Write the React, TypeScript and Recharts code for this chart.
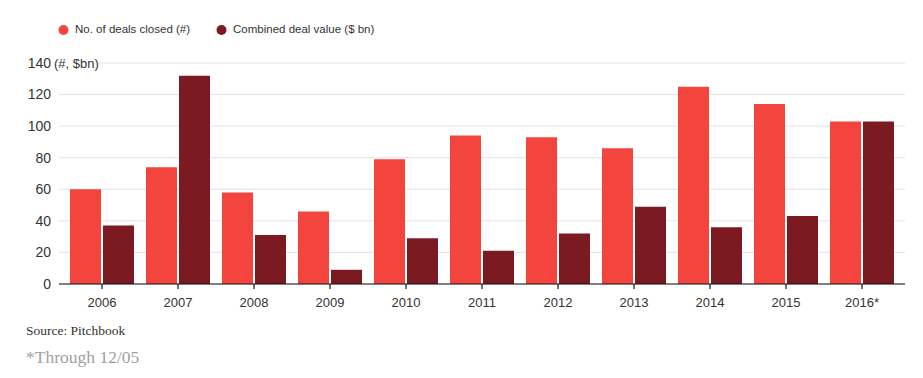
import React from "react";
import { BarChart, Bar, XAxis, YAxis, CartesianGrid } from "recharts";

const years = ["2006", "2007", "2008", "2009", "2010", "2011", "2012", "2013", "2014", "2015", "2016*"];
const dealsClosed = [60, 74, 58, 46, 79, 94, 93, 86, 125, 114, 103];
const dealValue = [37, 132, 31, 9, 29, 21, 32, 49, 36, 43, 103];
const yTicks = [0, 20, 40, 60, 80, 100, 120, 140];

const seriesNames = ["No. of deals closed (#)", "Combined deal value ($ bn)"];
const RED = "#F4443E";
const DARK = "#7C1A22";

const data = years.map((y, i) => ({ year: y, deals: dealsClosed[i], value: dealValue[i] }));

const SANS = "'Liberation Sans', Arial, sans-serif";
const SERIF = "'Liberation Serif', 'Times New Roman', serif";

const YTick = (props: any) => {
  const { x, y, payload } = props;
  if (payload.value === 140) {
    return (
      <g>
        <rect x={x + 1} y={y - 8} width={47} height={16} fill="#fff" />
        <text x={x} y={y} dy="0.35em" textAnchor="end" fontSize={14} fill="#333" fontFamily={SANS}>
          140
        </text>
        <text x={x + 3} y={y} dy="0.35em" textAnchor="start" fontSize={13} fill="#333" fontFamily={SANS}>
          (#, $bn)
        </text>
      </g>
    );
  }
  return (
    <text x={x} y={y} dy="0.35em" textAnchor="end" fontSize={14} fill="#333" fontFamily={SANS}>
      {payload.value}
    </text>
  );
};

const LegendContent = () => (
  <div style={{ display: "flex", alignItems: "center", fontFamily: SANS, fontSize: 11.5, color: "#333" }}>
    {[RED, DARK].map((c, i) => (
      <div key={i} style={{ display: "flex", alignItems: "center", marginRight: i === 0 ? 26 : 0 }}>
        <svg width={13} height={14} style={{ marginRight: 4 }}>
          <circle cx={5.5} cy={8} r={5} fill={c} />
        </svg>
        <span>{seriesNames[i]}</span>
      </div>
    ))}
  </div>
);

export default function App() {
  return (
    <div style={{ position: "relative", margin: -8, width: 923, height: 378, background: "#fff" }}>
      <BarChart
        width={923}
        height={378}
        data={data}
        margin={{ top: 63, right: 18, left: 0, bottom: 64 }}
        barSize={31}
        barGap={2}
      >
        <CartesianGrid vertical={false} stroke="#e3e3e3" />
        <XAxis
          dataKey="year"
          padding={{ left: 5, right: 5 }}
          axisLine={{ stroke: "#111", strokeWidth: 1.2 }}
          tickLine={{ stroke: "#111", strokeWidth: 1.2 }}
          tickSize={5}
          tickMargin={9}
          height={30}
          tick={{ fontSize: 13, fill: "#333", fontFamily: SANS }}
          interval={0}
        />
        <YAxis
          width={59}
          domain={[0, 140]}
          ticks={yTicks}
          axisLine={false}
          tickLine={false}
          tick={<YTick />}
          interval={0}
        />
        <Bar dataKey="deals" name={seriesNames[0]} fill={RED} isAnimationActive={false} />
        <Bar dataKey="value" name={seriesNames[1]} fill={DARK} isAnimationActive={false} />
      </BarChart>
      <div style={{ position: "absolute", top: 22, left: 58 }}>
        <LegendContent />
      </div>
      <div style={{ position: "absolute", left: 26, top: 323, fontFamily: SERIF, fontSize: 13.5, color: "#333", whiteSpace: "nowrap" }}>
        Source: Pitchbook
      </div>
      <div style={{ position: "absolute", left: 26, top: 347, fontFamily: SERIF, fontSize: 17.5, color: "#a0a0a0", whiteSpace: "nowrap" }}>
        *Through 12/05
      </div>
    </div>
  );
}
